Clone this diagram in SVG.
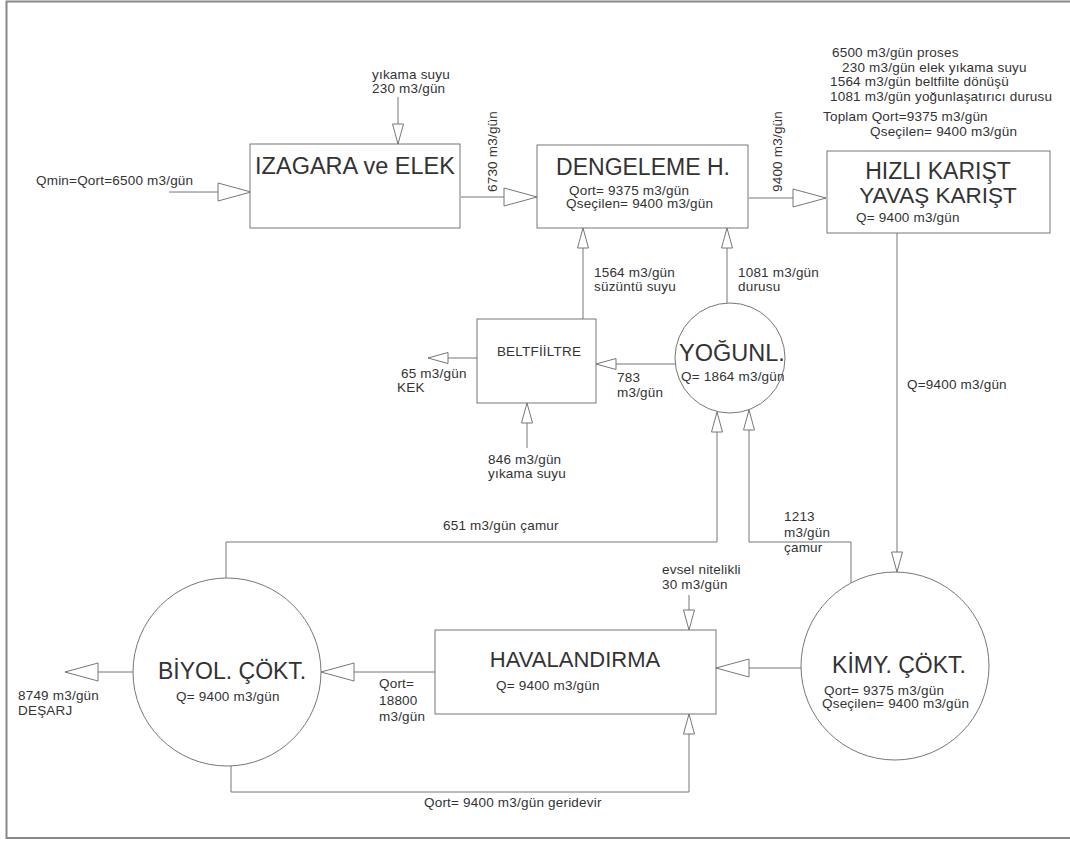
<svg xmlns="http://www.w3.org/2000/svg" width="1070" height="841" viewBox="0 0 1070 841">
<style>
text{font-family:"Liberation Sans",Arial,sans-serif;fill:#333}
.s{font-size:13.5px;letter-spacing:0.2px}
.t{font-size:23px}
.n{fill:#fff;stroke:#777;stroke-width:1}
.c{fill:none;stroke:#777;stroke-width:1}
.ah{fill:#fff;stroke:#777;stroke-width:1}
</style>
<defs>
<marker id="big" markerUnits="userSpaceOnUse" viewBox="0 0 35 20" refX="34" refY="10" markerWidth="35" markerHeight="20" orient="auto">
<path class="ah" d="M1,1 L34,10 L1,19 Z"/>
</marker>
<marker id="sm" markerUnits="userSpaceOnUse" viewBox="0 0 22 14" refX="21" refY="7" markerWidth="22" markerHeight="14" orient="auto">
<path class="ah" d="M1,1.5 L21,7 L1,12.5 Z"/>
</marker>
</defs>
<rect width="1070" height="841" fill="#fff"/>
<path d="M1070,1.5 H6.5 V838 H1070" fill="none" stroke="#888" stroke-width="2"/>

<g id="connectors">
<path class="c" d="M169,192 H251" marker-end="url(#big)"/>
<path class="c" d="M398,97 V144" marker-end="url(#sm)"/>
<path class="c" d="M461,197 H537" marker-end="url(#big)"/>
<path class="c" d="M749,198 H826" marker-end="url(#big)"/>
<path class="c" d="M583,319 V228" marker-end="url(#sm)"/>
<path class="c" d="M727,303 V228" marker-end="url(#sm)"/>
<path class="c" d="M897,233 V572" marker-end="url(#sm)"/>
<path class="c" d="M675,364 H596" marker-end="url(#sm)"/>
<path class="c" d="M477,358 H428" marker-end="url(#sm)"/>
<path class="c" d="M527,448 V403" marker-end="url(#sm)"/>
<path class="c" d="M226,578 V542 H717 V412" marker-end="url(#sm)"/>
<path class="c" d="M851,583 V542 H749 V410" marker-end="url(#sm)"/>
<path class="c" d="M802,668 H716" marker-end="url(#big)"/>
<path class="c" d="M689,595 V630" marker-end="url(#sm)"/>
<path class="c" d="M436,672 H321" marker-end="url(#big)"/>
<path class="c" d="M133,672 H65" marker-end="url(#big)"/>
<path class="c" d="M231,766 V792 H689 V714" marker-end="url(#sm)"/>
</g>

<g id="labels">
<text class="s" x="36" y="185">Qmin=Qort=6500 m3/gün</text>
<text class="s" x="372" y="79">yıkama suyu</text>
<text class="s" x="372" y="93">230 m3/gün</text>
<text class="s" transform="rotate(-90 497 192)" x="497" y="192">6730 m3/gün</text>
<text class="s" transform="rotate(-90 782 192)" x="782" y="192">9400 m3/gün</text>
<text class="s" x="832" y="57">6500 m3/gün proses</text>
<text class="s" x="842" y="72">230 m3/gün elek yıkama suyu</text>
<text class="s" x="830" y="86">1564 m3/gün beltfilte dönüşü</text>
<text class="s" x="830" y="101">1081 m3/gün yoğunlaşatırıcı durusu</text>
<text class="s" x="823" y="121">Toplam Qort=9375 m3/gün</text>
<text class="s" x="870" y="136">Qseçilen= 9400 m3/gün</text>
<text class="s" x="594" y="277">1564 m3/gün</text>
<text class="s" x="594" y="291">süzüntü suyu</text>
<text class="s" x="738" y="277">1081 m3/gün</text>
<text class="s" x="738" y="291">durusu</text>
<text class="s" x="401" y="378">65 m3/gün</text>
<text class="s" x="397" y="392">KEK</text>
<text class="s" x="617" y="382">783</text>
<text class="s" x="617" y="397">m3/gün</text>
<text class="s" x="488" y="464">846 m3/gün</text>
<text class="s" x="488" y="478">yıkama suyu</text>
<text class="s" x="907" y="389">Q=9400 m3/gün</text>
<text class="s" x="443" y="530">651 m3/gün çamur</text>
<text class="s" x="784" y="521">1213</text>
<text class="s" x="784" y="537">m3/gün</text>
<text class="s" x="784" y="552">çamur</text>
<text class="s" x="662" y="574">evsel nitelikli</text>
<text class="s" x="662" y="589">30 m3/gün</text>
<text class="s" x="379" y="688">Qort=</text>
<text class="s" x="379" y="705">18800</text>
<text class="s" x="379" y="721">m3/gün</text>
<text class="s" x="18" y="700">8749 m3/gün</text>
<text class="s" x="18" y="715">DEŞARJ</text>
<text class="s" x="424" y="807">Qort= 9400 m3/gün geridevir</text>
</g>

<g id="izagara">
<rect class="n" x="250" y="144" width="210" height="84"/>
<text class="t" style="font-size:23.5px" x="355" y="174" text-anchor="middle">IZAGARA ve ELEK</text>
</g>
<g id="dengeleme">
<rect class="n" x="537" y="145" width="211" height="83"/>
<text class="t" x="643" y="175" text-anchor="middle">DENGELEME H.</text>
<text class="s" x="569" y="195">Qort= 9375 m3/gün</text>
<text class="s" x="566" y="208">Qseçilen= 9400 m3/gün</text>
</g>
<g id="hizli">
<rect class="n" x="827" y="151" width="223" height="82"/>
<text class="t" x="938" y="179" text-anchor="middle">HIZLI KARIŞT</text>
<text class="t" style="font-size:22.5px" x="938" y="203" text-anchor="middle">YAVAŞ KARIŞT</text>
<text class="s" x="856" y="222">Q= 9400 m3/gün</text>
</g>
<g id="beltfiltre">
<rect class="n" x="477" y="319" width="119" height="84"/>
<text style="font-size:13.5px;letter-spacing:0.2px" x="539" y="356" text-anchor="middle">BELTFİİLTRE</text>
</g>
<g id="yogunl">
<circle class="n" cx="730" cy="358" r="55"/>
<text class="t" style="font-size:23.5px" x="679" y="361">YOĞUNL.</text>
<text class="s" x="681" y="381">Q= 1864 m3/gün</text>
</g>
<g id="kimy">
<circle class="n" cx="895" cy="666" r="94"/>
<text class="t" x="899" y="673" text-anchor="middle">KİMY. ÇÖKT.</text>
<text class="s" x="824" y="695">Qort= 9375 m3/gün</text>
<text class="s" x="822" y="708">Qseçilen= 9400 m3/gün</text>
</g>
<g id="havalandirma">
<rect class="n" x="435" y="630" width="281" height="84"/>
<text class="t" style="font-size:22px" x="575" y="667" text-anchor="middle">HAVALANDIRMA</text>
<text class="s" x="496" y="690">Q= 9400 m3/gün</text>
</g>
<g id="biyol">
<circle class="n" cx="227" cy="672" r="94"/>
<text class="t" x="158" y="679">BİYOL. ÇÖKT.</text>
<text class="s" x="176" y="701">Q= 9400 m3/gün</text>
</g>
</svg>
